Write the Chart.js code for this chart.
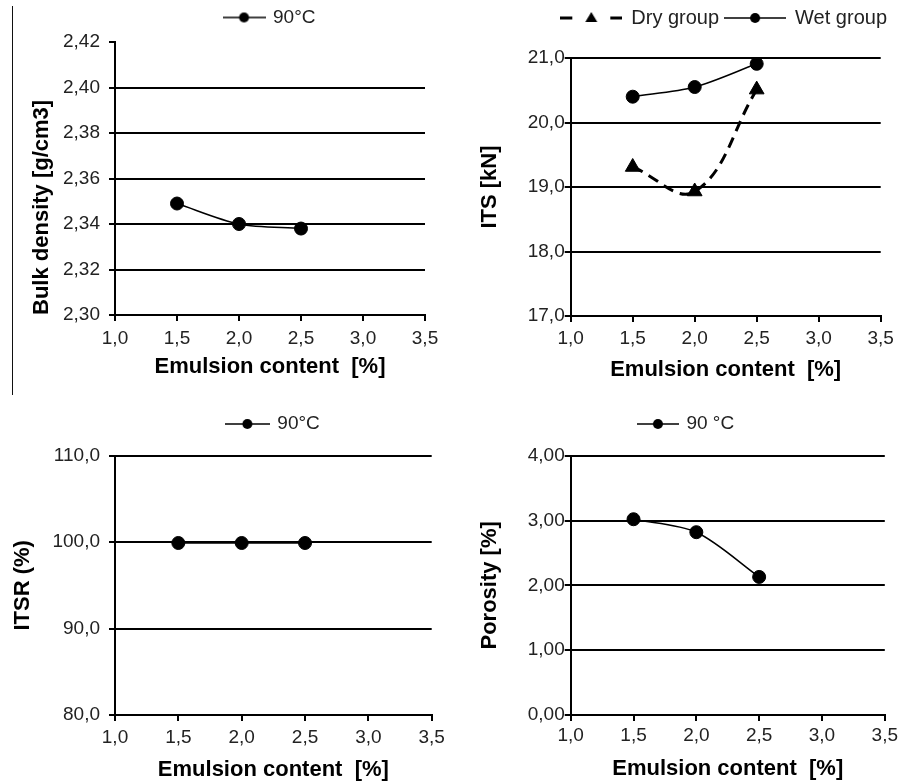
<!DOCTYPE html>
<html>
<head>
<meta charset="utf-8">
<script src="https://cdn.jsdelivr.net/npm/chart.js@4.4.0/dist/chart.umd.min.js"></script>
<style>
  body { margin: 0; background: #fff; }
  #page { position: relative; width: 901px; height: 784px; overflow: hidden; }
  #page canvas { position: absolute; }
  #edge { position: absolute; left: 12px; top: 6px; width: 1px; height: 389px; background: #111; }
</style>
</head>
<body>
<div id="page">
  <div id="edge"></div>
  <canvas id="bulk" width="450" height="390" style="left:0;top:0"></canvas>
  <canvas id="its" width="451" height="390" style="left:450px;top:0"></canvas>
  <canvas id="itsr" width="450" height="394" style="left:0;top:390px"></canvas>
  <canvas id="porosity" width="451" height="394" style="left:450px;top:390px"></canvas>
</div>
<script>
// emulsion content [%] on the x axis
var emulsion = [1.5, 2.0, 2.5]

// values
var bulkDensity = [2.349, 2.340, 2.338]
var itsDry = [19.31, 18.93, 20.51]
var itsWet = [20.40, 20.55, 20.91]
var itsr = [99.9, 99.9, 99.9]
var porosity = [3.02, 2.82, 2.13]

// axis ranges: min, max, step
var xRange = [1.0, 3.5, 0.5]
var bulkRange = [2.30, 2.42, 0.02]
var itsRange = [17.0, 21.0, 1.0]
var itsrRange = [80.0, 110.0, 10.0]
var porosityRange = [0.0, 4.0, 1.0]

var xTitle = 'Emulsion content  [%]'

Chart.defaults.font.family = "'Liberation Sans', Arial, sans-serif"
Chart.defaults.color = '#222'

function comma(value, digits) {
  return Number(value).toFixed(digits).replace('.', ',')
}

function points(values) {
  var out = []
  for (var i = 0; i < emulsion.length; i++) {
    out.push({x: emulsion[i], y: values[i]})
  }
  return out
}

// little line + marker picture for the legend
function legendIcon(width, dashed) {
  var c = document.createElement('canvas')
  c.width = width
  c.height = 18
  var ctx = c.getContext('2d')
  var mid = 9, cx = width / 2
  ctx.strokeStyle = '#000'
  ctx.fillStyle = '#000'
  if (dashed) {
    ctx.lineWidth = 3
    ctx.beginPath()
    ctx.moveTo(0, mid); ctx.lineTo(12, mid)
    ctx.moveTo(width - 12, mid); ctx.lineTo(width, mid)
    ctx.stroke()
    ctx.beginPath()
    ctx.moveTo(cx, mid - 6); ctx.lineTo(cx + 6, mid + 4); ctx.lineTo(cx - 6, mid + 4)
    ctx.closePath()
    ctx.fill()
  } else {
    ctx.lineWidth = 1.5
    ctx.beginPath()
    ctx.moveTo(0, mid); ctx.lineTo(width, mid)
    ctx.stroke()
    ctx.beginPath()
    ctx.arc(cx, mid, 5, 0, Math.PI * 2)
    ctx.fill()
  }
  return c
}

function series(label, values, extra) {
  var ds = {
    label: label,
    data: points(values),
    borderColor: '#000',
    backgroundColor: '#000',
    pointBorderColor: '#000',
    pointBackgroundColor: '#000',
    borderWidth: 1.5,
    pointRadius: 6.5,
    pointBorderWidth: 1,
    pointStyle: 'circle',
    tension: 0.3
  }
  for (var k in extra) ds[k] = extra[k]
  return ds
}

function makeChart(id, datasets, yRange, digits, yTitle, lay) {
  var scales = {
    x: {
      type: 'linear',
      min: xRange[0],
      max: xRange[1],
      ticks: {stepSize: xRange[2], padding: lay.xTickPad, color: '#222', font: {size: 19},
        callback: function(v) { return comma(v, 1) }},
      grid: {drawOnChartArea: false, color: '#000', tickColor: '#000', tickLength: 6, lineWidth: 2},
      border: {color: '#000', width: 2},
      title: {display: true, text: xTitle, color: '#000', font: {size: 22, weight: 'bold'},
        padding: {top: 0, bottom: lay.xTitlePad}},
      afterFit: function(s) { s.height = lay.xHeight }
    },
    y: {
      min: yRange[0],
      max: yRange[1],
      ticks: {stepSize: yRange[2], padding: lay.yTickPad, color: '#222', font: {size: 19},
        callback: function(v) { return comma(v, digits) }},
      grid: {
        color: function(ctx) {
          if (lay.hideTop && ctx.tick && Math.abs(ctx.tick.value - yRange[1]) < 1e-9) return 'rgba(0,0,0,0)'
          return '#000'
        },
        tickColor: '#000', tickLength: 6, lineWidth: 2
      },
      border: {color: '#000', width: 2},
      title: {display: true, text: yTitle, color: '#000', font: {size: 22, weight: 'bold'},
        align: lay.yTitleAlign || 'center', padding: {top: lay.yTitlePad, bottom: 0}},
      afterFit: function(s) { s.width = lay.yWidth }
    }
  }
  if (lay.rightGap) {
    // empty box on the right so the legend can reach past the plot edge
    scales.gap = {
      position: 'right',
      ticks: {display: false},
      grid: {display: false},
      border: {display: false},
      afterFit: function(s) { s.width = lay.rightGap }
    }
  }

  return new Chart(document.getElementById(id), {
    type: 'line',
    data: {datasets: datasets},
    options: {
      responsive: false,
      animation: false,
      layout: {padding: {top: lay.top, left: lay.left, right: lay.right, bottom: lay.bottom}},
      plugins: {
        tooltip: {enabled: false},
        // empty title used as a gap between legend and plot
        title: {display: true, text: '', weight: 100, font: {size: 1}, padding: {top: 0, bottom: lay.spacer}},
        legend: {
          position: 'top',
          fullSize: lay.legendFull,
          align: lay.legendAlign || 'center',
          labels: {
            usePointStyle: true,
            pointStyleWidth: lay.iconWidth,
            padding: 6,
            color: '#222',
            font: {size: lay.legendFont || 19},
            generateLabels: function(chart) {
              return chart.data.datasets.map(function(ds, i) {
                return {text: ds.label, pointStyle: ds.icon, fillStyle: '#000', strokeStyle: '#000',
                  lineWidth: 0, hidden: false, datasetIndex: i, fontColor: '#222'}
              })
            }
          }
        }
      },
      scales: scales
    }
  })
}

makeChart('bulk',
  [series('90°C', bulkDensity, {icon: legendIcon(43, false)})],
  bulkRange, 2, 'Bulk density [g/cm3]',
  {top: 2, left: 10, right: 25, bottom: 5, spacer: 3.8, yWidth: 105, yTitlePad: 18.8, yTickPad: 9,
    yTitleAlign: 'start', xHeight: 70, xTickPad: 6, xTitlePad: 4.8, legendFull: false, iconWidth: 39,
    hideTop: true})

makeChart('its',
  [series('Dry group', itsDry, {icon: legendIcon(62, true), borderDash: [11, 7], borderWidth: 3,
      pointStyle: 'triangle', pointRadius: 8.5, tension: 0.4}),
   series('Wet group', itsWet, {icon: legendIcon(62, false)})],
  itsRange, 1, 'ITS [kN]',
  {top: 2, left: 10, right: 8, rightGap: 12.3, bottom: 4, spacer: 18.8, yWidth: 110.7, yTitlePad: 16.8, yTickPad: 0,
    xHeight: 70, xTickPad: 5, xTitlePad: 2.8, legendFull: true, legendAlign: 'end', legendFont: 20,
    iconWidth: 60, hideTop: false})

makeChart('itsr',
  [series('90°C', itsr, {icon: legendIcon(45, false)})],
  itsrRange, 1, 'ITSR (%)',
  {top: 18.5, left: 5, right: 18.3, bottom: 0, spacer: 11, yWidth: 110, yTitlePad: 4.8, yTickPad: 9,
    xHeight: 69, xTickPad: 5, xTitlePad: 0.8, legendFull: false, iconWidth: 41, hideTop: false})

makeChart('porosity',
  [series('90 °C', porosity, {icon: legendIcon(42, false)})],
  porosityRange, 2, 'Porosity [%]',
  {top: 18.5, left: 22, right: 0, rightGap: 16, bottom: 0, spacer: 11, yWidth: 98.7, yTitlePad: 4.8, yTickPad: 0,
    xHeight: 69, xTickPad: 3, xTitlePad: 1.8, legendFull: true, iconWidth: 38, hideTop: false})
</script>
</body>
</html>
